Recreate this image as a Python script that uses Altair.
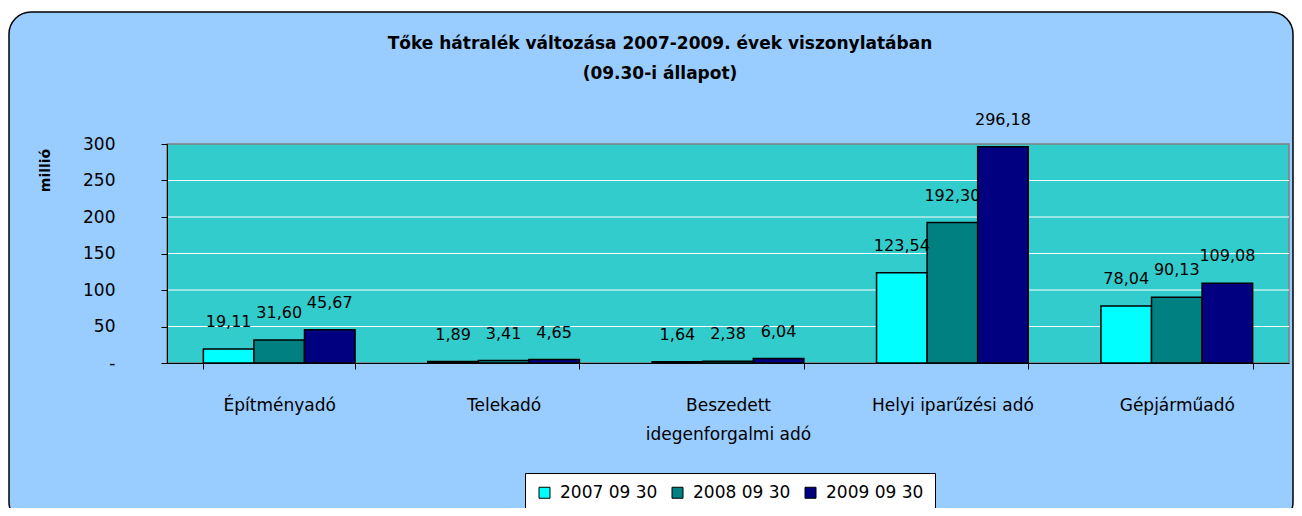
import altair as alt
import pandas as pd

CATEGORIES = ["Építményadó", "Telekadó", "Beszedett idegenforgalmi adó",
              "Helyi iparűzési adó", "Gépjárműadó"]
SERIES = ["2007 09 30", "2008 09 30", "2009 09 30"]
V2007 = [19.11, 1.89, 1.64, 123.54, 78.04]
V2008 = [31.60, 3.41, 2.38, 192.30, 90.13]
V2009 = [45.67, 4.65, 6.04, 296.18, 109.08]
COLORS = ["#00FFFF", "#008080", "#000080"]
Y_TICKS = [0, 50, 100, 150, 200, 250, 300]
GRID_VALUES = [50, 100, 150, 200, 250]
TITLE_LINES = ["Tőke hátralék változása 2007-2009. évek viszonylatában",
               "(09.30-i állapot)"]
Y_TITLE = "millió"

W, H = 1122, 219
FONT = "DejaVu Sans"

rows = []
for s, vals in zip(SERIES, [V2007, V2008, V2009]):
    for c, v in zip(CATEGORIES, vals):
        rows.append({"category": c, "series": s, "value": v})
df = pd.DataFrame(rows)

one = alt.Data(values=[{"k": 1}])

yscale = alt.Scale(domain=[0, 300], nice=False, zero=True)


def y_axis():
    return alt.Axis(
        values=Y_TICKS, labelExpr="datum.value == 0 ? '-' : datum.label",
        title=Y_TITLE, titleFont=FONT, titleFontSize=14, titleFontWeight="bold",
        titleColor="black", titleX=-122, titleY=26, titleAlign="center",
        titleBaseline="middle", labelFont=FONT, labelFontSize=17, labelColor="black",
        labelPadding=46, tickSize=6, tickColor="black", domainColor="black",
        grid=False, zindex=1,
    )


box = alt.Chart(one).mark_rect(
    fill="#99CCFF", stroke="#000000", strokeWidth=1.5, cornerRadius=22, clip=False
).encode(x=alt.value(-158), x2=alt.value(W + 4), y=alt.value(-132), y2=alt.value(380))

plot_bg = alt.Chart(one).mark_rect(
    fill="#33CCCC", stroke="#808080", strokeWidth=1.5
).encode(x=alt.value(0), x2=alt.value(W), y=alt.value(0), y2=alt.value(H))

grid = alt.Chart(pd.DataFrame({"value": GRID_VALUES})).mark_rule(
    color="white", strokeWidth=1
).encode(y=alt.Y("value:Q", scale=yscale, axis=y_axis()), x=alt.value(0), x2=alt.value(W))

x_enc = alt.X(
    "category:N", sort=CATEGORIES,
    scale=alt.Scale(paddingInner=0.324, paddingOuter=0.162),
    axis=alt.Axis(
        title=None, labelAngle=0, tickBand="extent", labelFont=FONT, labelFontSize=17,
        labelColor="black", labelPadding=28, labelBaseline="top", labelLineHeight=29,
        labelLimit=0, tickSize=6, tickColor="black", domainColor="black", grid=False,
        zindex=1,
        labelExpr="datum.label == 'Beszedett idegenforgalmi adó' ? ['Beszedett', 'idegenforgalmi adó'] : datum.label",
    ),
)
xoff_enc = alt.XOffset("series:N", sort=SERIES, scale=alt.Scale(paddingInner=0, paddingOuter=0))
y_enc = alt.Y("value:Q", scale=yscale, axis=y_axis())

bars = alt.Chart(df).mark_bar(stroke="black", strokeWidth=1.5).encode(
    x=x_enc, xOffset=xoff_enc, y=y_enc,
    color=alt.Color(
        "series:N", sort=SERIES, scale=alt.Scale(domain=SERIES, range=COLORS),
        legend=alt.Legend(
            title=None, orient="none", legendX=358, legendY=329, direction="horizontal",
            fillColor="white", strokeColor="black", padding=11, symbolType="square",
            symbolSize=121, symbolStrokeColor="black", symbolStrokeWidth=1,
            labelFont=FONT, labelFontSize=17, labelColor="black", labelOffset=7,
            columnPadding=11,
        ),
    ),
)

labels = alt.Chart(df).transform_calculate(
    lbl="replace(format(datum.value, '.2f'), '.', ',')"
).mark_text(dy=-27, baseline="middle", align="center", font=FONT, fontSize=16, color="black").encode(
    x=x_enc, xOffset=xoff_enc, y=y_enc, text="lbl:N"
)

title = alt.Chart(one).mark_text(
    text=TITLE_LINES, font=FONT, fontSize=17, fontWeight="bold", lineHeight=30,
    baseline="top", align="center", color="black"
).encode(x=alt.value(493), y=alt.value(-108))

chart = alt.layer(box, plot_bg, grid, bars, labels, title).properties(
    width=W, height=H,
    autosize=alt.AutoSizeParams(type="none"),
    padding={"left": 159, "top": 136, "right": 5, "bottom": 145},
    background="white",
).configure_view(stroke="transparent")

chart.save("out.html", embed_options={"renderer": "svg", "actions": False})
